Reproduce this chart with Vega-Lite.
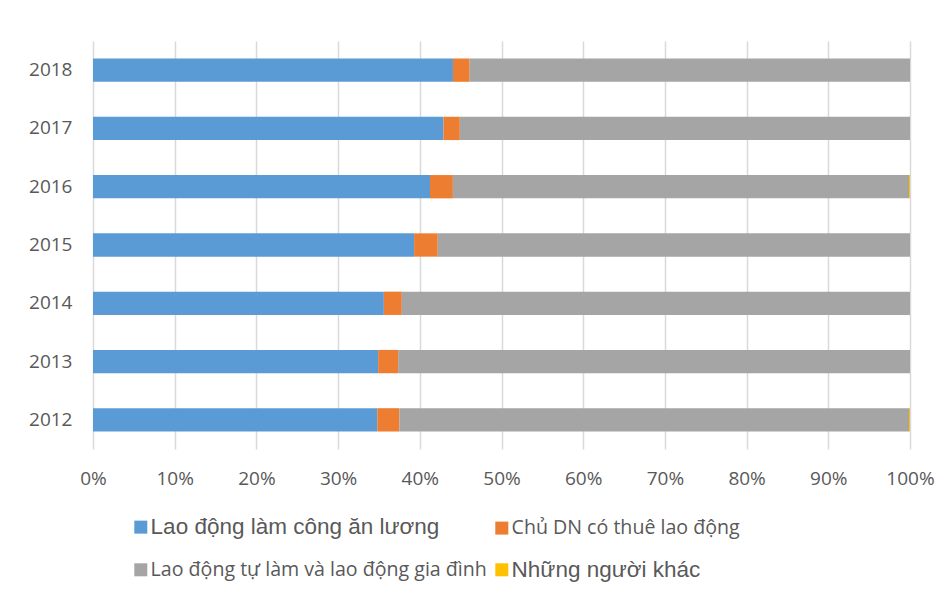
{
  "$schema": "https://vega.github.io/schema/vega-lite/v6.json",
  "autosize": {"type": "none"},
  "padding": {"left": 93, "top": 41, "right": 39, "bottom": 146},
  "width": 817,
  "height": 408,
  "background": "white",
  "config": {
    "view": {"stroke": null},
    "font": "Open Sans"
  },
  "datasets": {
    "nhom_lao_dong": [
      {"nhom": "Lao động làm công ăn lương", "thu_tu": 1},
      {"nhom": "Chủ DN có thuê lao động", "thu_tu": 2},
      {"nhom": "Lao động tự làm và lao động gia đình", "thu_tu": 3},
      {"nhom": "Những người khác", "thu_tu": 4}
    ],
    "co_cau": [
      {"nam": "2018", "nhom": "Lao động làm công ăn lương", "tyle": 44.06},
      {"nam": "2018", "nhom": "Chủ DN có thuê lao động", "tyle": 2.04},
      {"nam": "2018", "nhom": "Lao động tự làm và lao động gia đình", "tyle": 53.9},
      {"nam": "2018", "nhom": "Những người khác", "tyle": 0},
      {"nam": "2017", "nhom": "Lao động làm công ăn lương", "tyle": 42.9},
      {"nam": "2017", "nhom": "Chủ DN có thuê lao động", "tyle": 2.0},
      {"nam": "2017", "nhom": "Lao động tự làm và lao động gia đình", "tyle": 55.1},
      {"nam": "2017", "nhom": "Những người khác", "tyle": 0},
      {"nam": "2016", "nhom": "Lao động làm công ăn lương", "tyle": 41.25},
      {"nam": "2016", "nhom": "Chủ DN có thuê lao động", "tyle": 2.8},
      {"nam": "2016", "nhom": "Lao động tự làm và lao động gia đình", "tyle": 55.83},
      {"nam": "2016", "nhom": "Những người khác", "tyle": 0.12},
      {"nam": "2015", "nhom": "Lao động làm công ăn lương", "tyle": 39.3},
      {"nam": "2015", "nhom": "Chủ DN có thuê lao động", "tyle": 2.9},
      {"nam": "2015", "nhom": "Lao động tự làm và lao động gia đình", "tyle": 57.8},
      {"nam": "2015", "nhom": "Những người khác", "tyle": 0},
      {"nam": "2014", "nhom": "Lao động làm công ăn lương", "tyle": 35.6},
      {"nam": "2014", "nhom": "Chủ DN có thuê lao động", "tyle": 2.2},
      {"nam": "2014", "nhom": "Lao động tự làm và lao động gia đình", "tyle": 62.2},
      {"nam": "2014", "nhom": "Những người khác", "tyle": 0},
      {"nam": "2013", "nhom": "Lao động làm công ăn lương", "tyle": 34.9},
      {"nam": "2013", "nhom": "Chủ DN có thuê lao động", "tyle": 2.45},
      {"nam": "2013", "nhom": "Lao động tự làm và lao động gia đình", "tyle": 62.65},
      {"nam": "2013", "nhom": "Những người khác", "tyle": 0},
      {"nam": "2012", "nhom": "Lao động làm công ăn lương", "tyle": 34.8},
      {"nam": "2012", "nhom": "Chủ DN có thuê lao động", "tyle": 2.7},
      {"nam": "2012", "nhom": "Lao động tự làm và lao động gia đình", "tyle": 62.38},
      {"nam": "2012", "nhom": "Những người khác", "tyle": 0.12}
    ]
  },
  "data": {"name": "co_cau"},
  "transform": [
    {
      "lookup": "nhom",
      "from": {"data": {"name": "nhom_lao_dong"}, "key": "nhom", "fields": ["thu_tu"]}
    }
  ],
  "mark": {"type": "bar"},
  "encoding": {
    "y": {
      "field": "nam",
      "type": "ordinal",
      "sort": "descending",
      "scale": {"paddingInner": 0.6, "paddingOuter": 0.3},
      "axis": {
        "title": null,
        "ticks": false,
        "domain": false,
        "labelPadding": 21,
        "labelFontSize": 19,
        "labelColor": "#595959",
        "labelFont": "Open Sans"
      }
    },
    "x": {
      "field": "tyle",
      "type": "quantitative",
      "stack": "normalize",
      "scale": {"domain": [0, 1]},
      "axis": {
        "title": null,
        "format": ".0%",
        "tickCount": 10,
        "ticks": false,
        "domain": false,
        "labelFlush": false,
        "labelPadding": 20,
        "labelFontSize": 19,
        "labelColor": "#595959",
        "labelFont": "Open Sans",
        "gridColor": "#d9d9d9",
        "gridWidth": 1.5
      }
    },
    "order": {"field": "thu_tu", "type": "quantitative", "sort": "ascending"},
    "color": {
      "field": "nhom",
      "type": "nominal",
      "sort": [
        "Lao động làm công ăn lương",
        "Chủ DN có thuê lao động",
        "Lao động tự làm và lao động gia đình",
        "Những người khác"
      ],
      "scale": {
        "domain": [
          "Lao động làm công ăn lương",
          "Chủ DN có thuê lao động",
          "Lao động tự làm và lao động gia đình",
          "Những người khác"
        ],
        "range": ["#5B9BD5", "#ED7D31", "#A5A5A5", "#FFC000"]
      },
      "legend": {
        "title": null,
        "orient": "none",
        "legendX": 38,
        "legendY": 476,
        "direction": "horizontal",
        "columns": 2,
        "columnPadding": 5,
        "rowPadding": 19,
        "symbolType": "square",
        "symbolSize": 169,
        "symbolStrokeWidth": 0,
        "labelOffset": 0,
        "labelLimit": 500,
        "labelColor": "#595959",
        "labelFont": {"expr": "datum.label == 'Lao động làm công ăn lương' || datum.label == 'Những người khác' ? 'Liberation Sans' : 'Open Sans'"},
        "labelFontSize": {"expr": "datum.label == 'Lao động làm công ăn lương' || datum.label == 'Những người khác' ? 22.5 : 19.6"}
      }
    }
  }
}
